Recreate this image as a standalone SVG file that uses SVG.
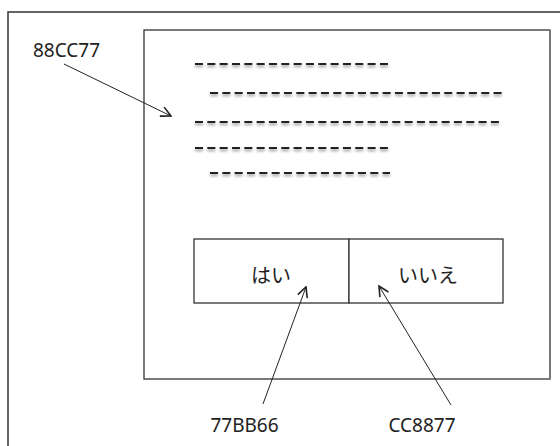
<svg xmlns="http://www.w3.org/2000/svg" width="560" height="446" viewBox="0 0 560 446">
<defs>
<style>
.frame{fill:none;stroke:#333;stroke-width:1.5}
.box{fill:#fff;stroke:#333;stroke-width:1.3}
.lbl{font-family:"Noto Sans","Liberation Sans",sans-serif;font-size:19px;fill:#222}
.jp{font-family:"Noto Sans CJK JP",sans-serif;font-size:20px;fill:#222}
.conn{stroke:#222;stroke-width:1;fill:none;marker-end:url(#arr)}
.dash{stroke:#222;stroke-width:2.2;stroke-dasharray:8 4.33}
</style>
<marker id="arr" viewBox="0 0 12 12" refX="11" refY="6" markerWidth="12" markerHeight="12" markerUnits="userSpaceOnUse" orient="auto">
<path d="M1,1 L11,6 L1,11" fill="none" stroke="#222" stroke-width="1.6"/>
</marker>
<filter id="sh" filterUnits="userSpaceOnUse" x="0" y="0" width="560" height="446">
<feGaussianBlur in="SourceAlpha" stdDeviation="1.6" result="b"/>
<feOffset in="b" dy="1.5" result="o"/>
<feComponentTransfer in="o" result="s"><feFuncA type="linear" slope="0.45"/></feComponentTransfer>
<feMerge><feMergeNode in="s"/><feMergeNode in="SourceGraphic"/></feMerge>
</filter>
</defs>
<rect width="560" height="446" fill="#fff"/>
<g id="outer"><rect class="frame" x="8" y="12" width="620" height="500"/></g>
<g id="dialog">
<rect class="box" x="144" y="30" width="406" height="349"/>
<line x1="550" y1="30" x2="550" y2="379" stroke="#777" stroke-width="2"/>
</g>
<g id="text-lines" filter="url(#sh)">
<line class="dash" x1="195" y1="64" x2="388" y2="64"/>
<line class="dash" x1="210" y1="93" x2="502" y2="93"/>
<line class="dash" x1="195" y1="122" x2="500" y2="122"/>
<line class="dash" x1="195" y1="148" x2="388" y2="148"/>
<line class="dash" x1="210" y1="173" x2="390" y2="173"/>
</g>
<g id="btn-yes">
<rect class="box" x="194" y="239" width="155" height="64"/>
<text class="jp" x="271" y="283" text-anchor="middle">はい</text>
</g>
<g id="btn-no">
<rect class="box" x="349" y="239" width="154" height="64"/>
<text class="jp" x="428" y="283" text-anchor="middle">いいえ</text>
</g>
<g id="label-88CC77"><text class="lbl" x="33" y="57">88CC77</text></g>
<g id="label-77BB66"><text class="lbl" x="244.5" y="432" text-anchor="middle">77BB66</text></g>
<g id="label-CC8877"><text class="lbl" x="422" y="432" text-anchor="middle">CC8877</text></g>
<g id="connectors">
<line class="conn" x1="64" y1="64" x2="171" y2="116"/>
<line class="conn" x1="263" y1="404" x2="306" y2="287"/>
<line class="conn" x1="451" y1="405" x2="379" y2="286"/>
</g>
</svg>
